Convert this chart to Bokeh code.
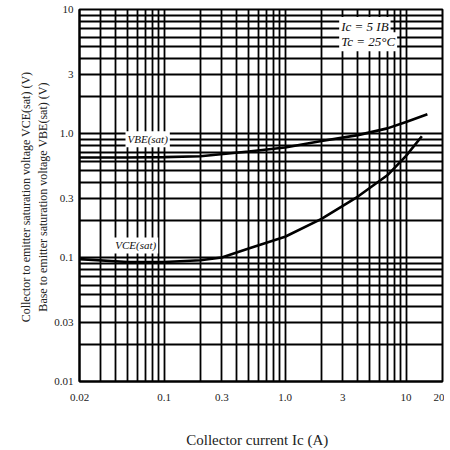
from bokeh.plotting import figure
from bokeh.models import FixedTicker, Label
from bokeh.embed import file_html
from bokeh.resources import INLINE

# Data
ic_vbe = [0.02, 0.05, 0.1, 0.2, 0.5, 1.0, 2.0, 4.0, 7.0, 10.0, 15.0]
vbe_sat = [0.64, 0.64, 0.645, 0.655, 0.715, 0.77, 0.87, 0.97, 1.1, 1.24, 1.43]

ic_vce = [0.02, 0.05, 0.1, 0.2, 0.3, 0.5, 1.0, 2.0, 4.0, 7.0, 10.0, 13.5]
vce_sat = [0.097, 0.092, 0.092, 0.095, 0.1, 0.118, 0.147, 0.205, 0.31, 0.46, 0.66, 0.95]

x_ticks = [0.02, 0.1, 0.3, 1.0, 3.0, 10.0, 20.0]
x_tick_labels = ["0.02", "0.1", "0.3", "1.0", "3", "10", "20"]
y_ticks = [0.01, 0.03, 0.1, 0.3, 1.0, 3.0, 10.0]
y_tick_labels = ["0.01", "0.03", "0.1", "0.3", "1.0", "3", "10"]

x_grid = [0.02, 0.03, 0.04, 0.05, 0.06, 0.07, 0.08, 0.09,
          0.1, 0.2, 0.3, 0.4, 0.5, 0.6, 0.7, 0.8, 0.9,
          1.0, 2.0, 3.0, 4.0, 5.0, 6.0, 7.0, 8.0, 9.0, 10.0, 20.0]
y_grid = [0.01, 0.02, 0.03, 0.04, 0.05, 0.06, 0.07, 0.08, 0.09,
          0.1, 0.2, 0.3, 0.4, 0.5, 0.6, 0.7, 0.8, 0.9,
          1.0, 2.0, 3.0, 4.0, 5.0, 6.0, 7.0, 8.0, 9.0, 10.0]

FONT = "Liberation Serif"

p = figure(x_axis_type="log", y_axis_type="log",
           x_range=(0.02, 20), y_range=(0.01, 10),
           frame_width=363, frame_height=372,
           min_border_left=79, min_border_right=2, min_border_top=9,
           min_border_bottom=64,
           output_backend="svg", toolbar_location=None)

p.outline_line_color = "black"
p.outline_line_width = 2

for g, ticks in ((p.xgrid, x_grid), (p.ygrid, y_grid)):
    g.ticker = FixedTicker(ticks=ticks)
    g.grid_line_color = "black"
    g.grid_line_width = 1.8
    g.grid_line_alpha = 1.0

for ax, ticks, labels in ((p.xaxis, x_ticks, x_tick_labels), (p.yaxis, y_ticks, y_tick_labels)):
    ax.ticker = FixedTicker(ticks=ticks, minor_ticks=[])
    ax.major_label_overrides = {t: l for t, l in zip(ticks, labels)}
    ax.major_tick_line_color = None
    ax.minor_tick_line_color = None
    ax.axis_line_color = "black"
    ax.axis_line_width = 2
    ax.major_label_text_font = FONT
    ax.major_label_text_font_size = "11px"
    ax.major_label_text_color = "#222222"
    ax.axis_label_text_font = FONT
    ax.axis_label_text_font_style = "normal"
    ax.axis_label_text_color = "#222222"

p.xaxis.major_label_standoff = 6
p.yaxis.major_label_standoff = 0
p.xaxis.axis_label = "Collector current   Ic (A)"
p.xaxis.axis_label_text_font_size = "15px"
p.xaxis.axis_label_standoff = 28
p.yaxis.axis_label = ("Collector to emitter saturation voltage  VCE(sat) (V)\n"
                      "Base to emitter saturation voltage  VBE(sat) (V)")
p.yaxis.axis_label_text_font_size = "12px"
p.yaxis.axis_label_standoff = 1

p.line(ic_vbe, vbe_sat, line_color="black", line_width=2.6)
p.line(ic_vce, vce_sat, line_color="black", line_width=2.6)

def add_label(x, y, text, size="11px"):
    p.add_layout(Label(x=x, y=y, text=text, text_font=FONT, text_font_size=size,
                       text_font_style="italic", text_color="#111111",
                       text_baseline="middle", text_align="left",
                       background_fill_color="white", background_fill_alpha=1.0,
                       padding=2))

add_label(0.048, 0.9, "VBE(sat)")
add_label(0.038, 0.125, "VCE(sat)")
add_label(2.8, 7.3, "Ic = 5 IB", "13px")
add_label(2.8, 5.5, "Tc = 25°C", "13px")

open("out.html", "w").write(file_html(p, INLINE))
